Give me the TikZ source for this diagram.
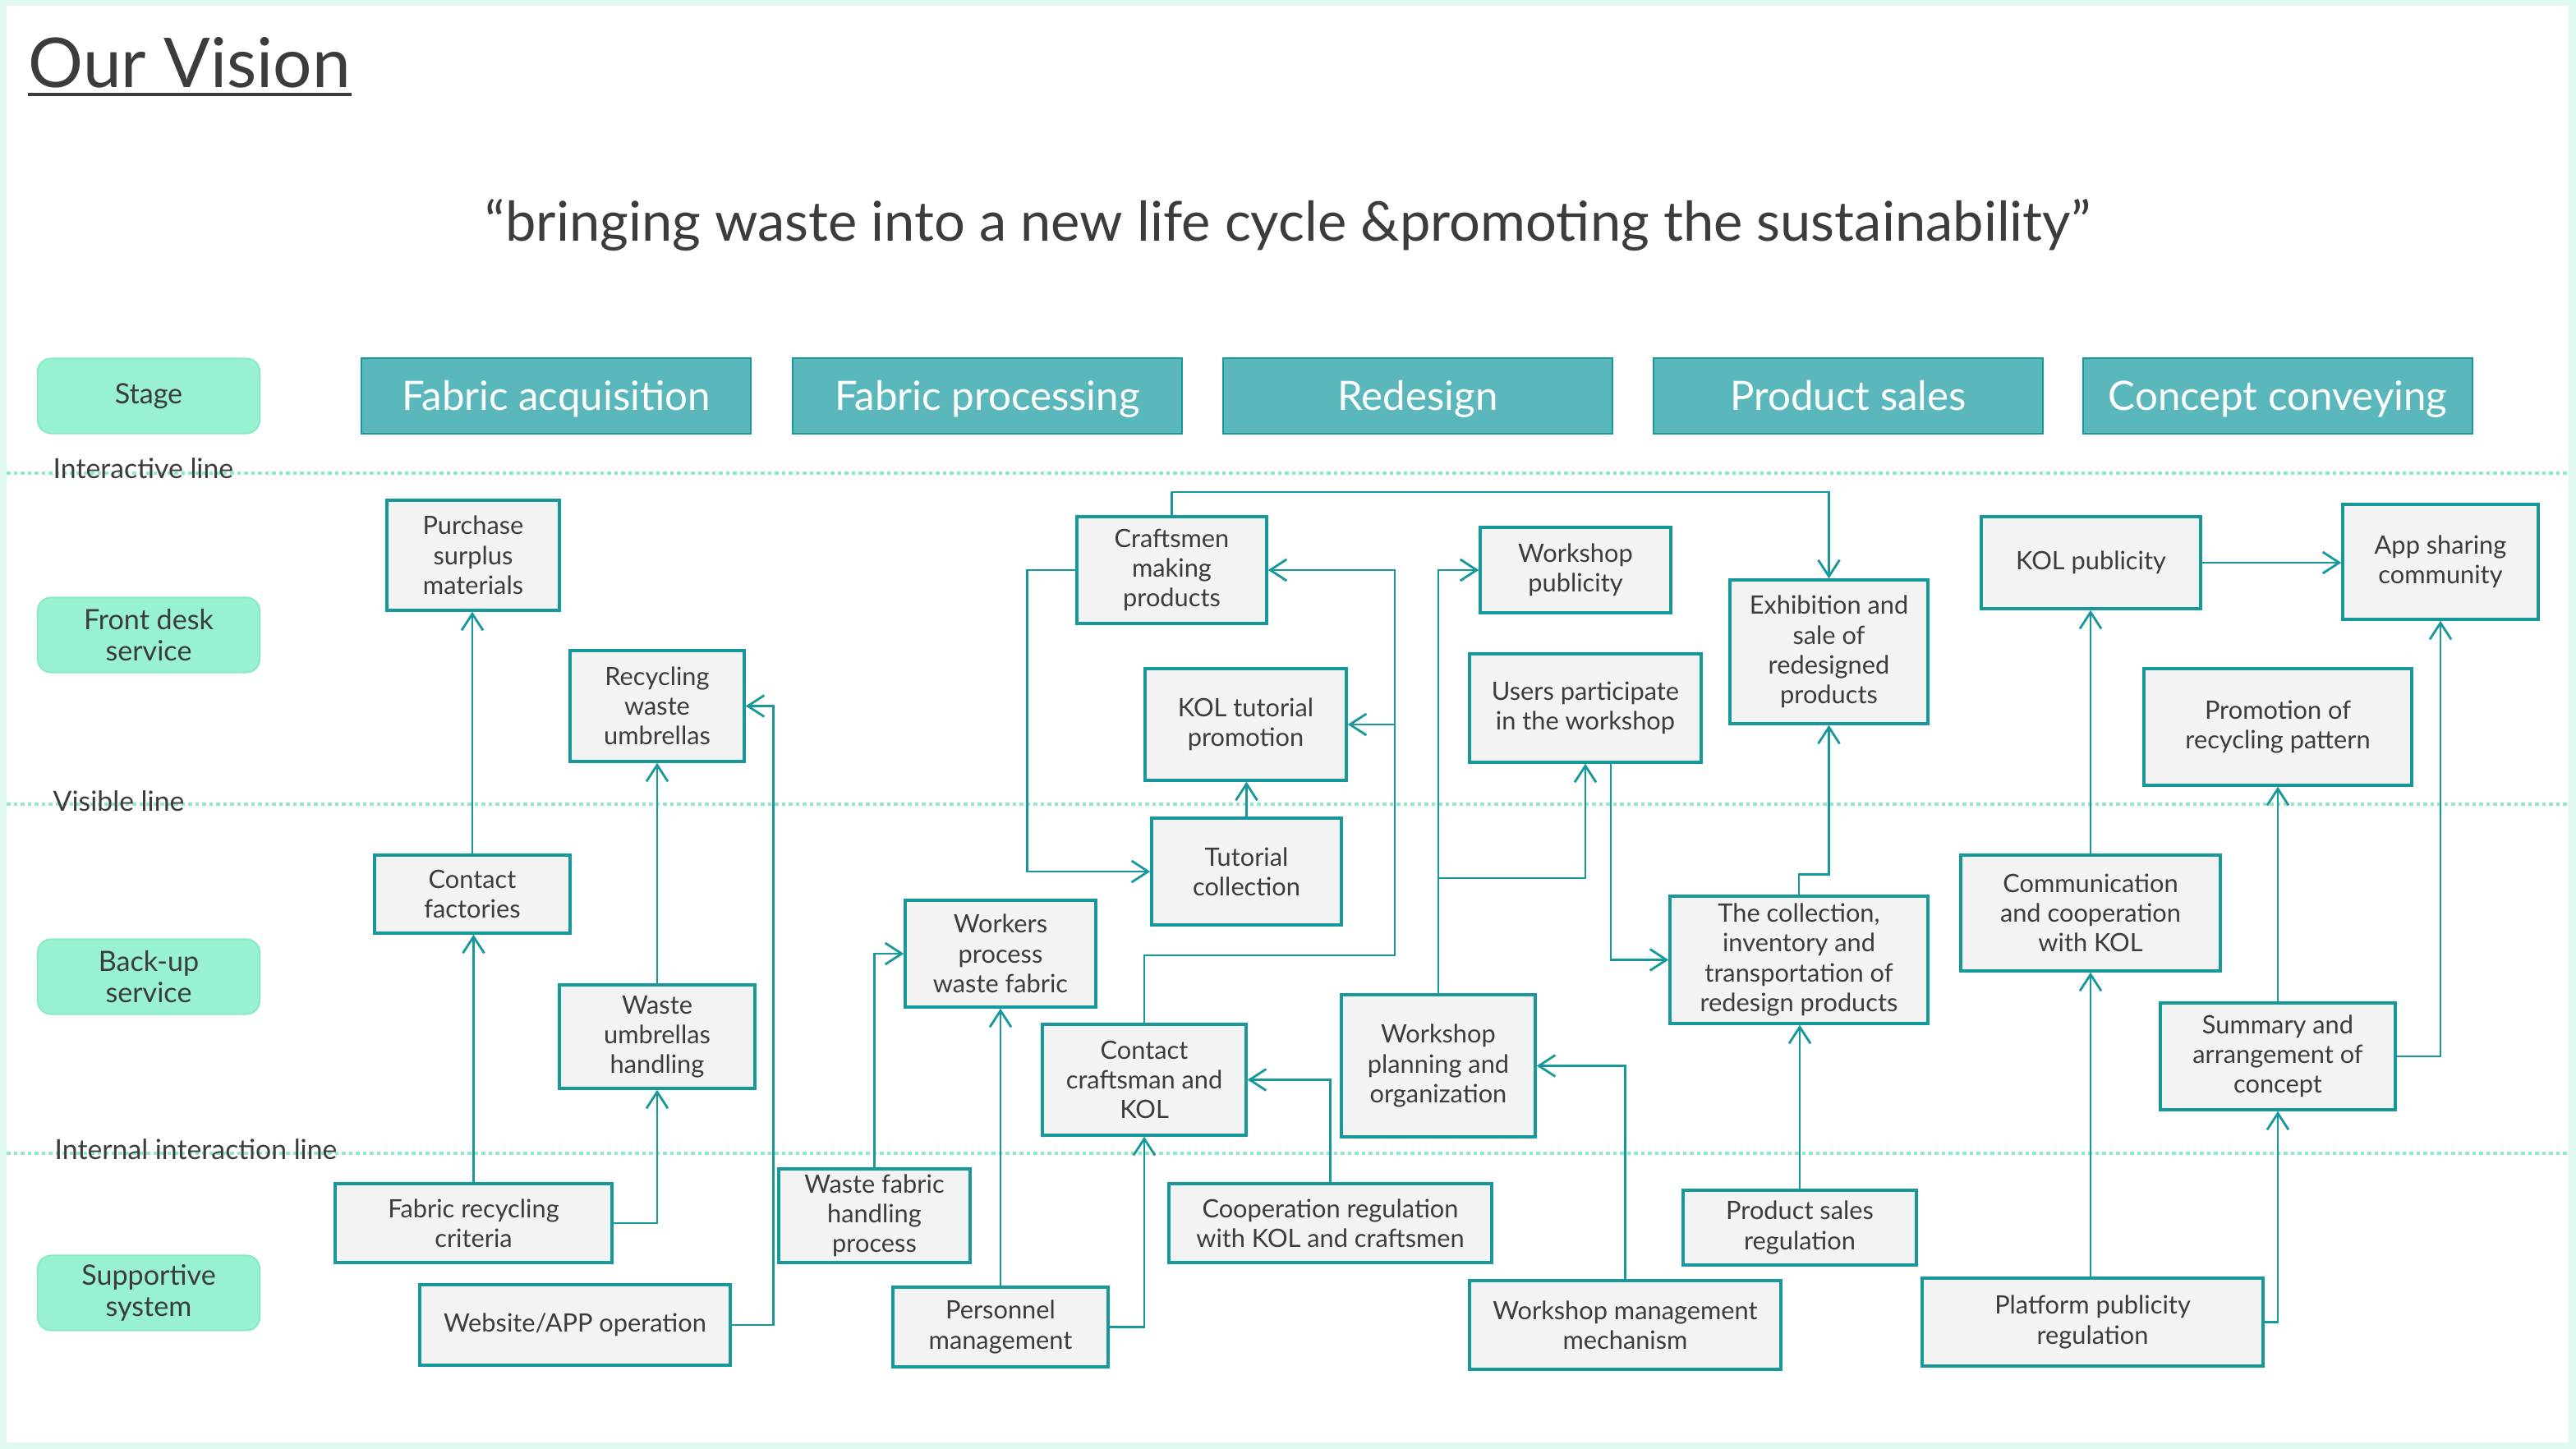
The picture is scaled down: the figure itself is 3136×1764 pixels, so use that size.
\documentclass[tikz,border=0pt]{standalone}
\usepackage{fontspec}
\setmainfont{Lato}
\usetikzlibrary{arrows.meta}
\definecolor{frameC}{HTML}{E0F9EF}
\definecolor{tealB}{HTML}{17999B}
\definecolor{boxF}{HTML}{F3F3F3}
\definecolor{txtC}{HTML}{3C3C3C}
\definecolor{mintF}{HTML}{98F2CF}
\definecolor{mintB}{HTML}{86EBC4}
\definecolor{headF}{HTML}{5AB7BB}
\definecolor{dotC}{HTML}{8FEAC8}
\tikzset{
  box/.style={draw=tealB, fill=boxF, line width=0.035cm, text=txtC, align=center,
    inner sep=0pt, font=\fontsize{8.75}{10.3}\selectfont},
  wh/.style 2 args={minimum width=#1*0.01cm, minimum height=#2*0.01cm},
  conn/.style={draw=tealB, line width=0.028cm,
    -{Straight Barb[length=0.2cm,width=0.26cm,line width=0.028cm]}},
  stagelbl/.style={fill=mintF, draw=mintB, line width=0.02cm, rounded corners=0.16cm,
    text=txtC, align=center, inner sep=0pt, minimum width=2.7cm, minimum height=0.91cm,
    font=\fontsize{9.7}{10.8}\selectfont},
  head/.style={fill=headF, draw=tealB, line width=0.02cm, text=white, inner sep=0pt,
    minimum width=4.74cm, minimum height=0.92cm, text height=0.42cm, text depth=0.07cm,
    font=\fontsize{14}{16}\selectfont},
  sepline/.style={draw=dotC, line width=0.045cm, dash pattern=on 0.045cm off 0.04cm},
  linelbl/.style={text=txtC, inner sep=0pt, anchor=base west, font=\fontsize{9.6}{11}\selectfont}
}
\begin{document}
\begin{tikzpicture}[x=0.01cm,y=-0.01cm]
\useasboundingbox (0,0) rectangle (3136,1764);
\fill[frameC] (0,0) rectangle (3136,1764);
\fill[white] (8,7) rectangle (3127,1756);

% title and motto
\node[anchor=base west, inner sep=0pt, text=txtC, font=\fontsize{23.8}{28}\selectfont] (title) at (34,107) {Our Vision};
\draw[txtC, line width=0.045cm] ([yshift=-0.08cm]title.base west) -- ([yshift=-0.08cm]title.base east);
\node[anchor=base, inner sep=0pt, text=txtC, font=\fontsize{19}{22}\selectfont] (motto) at (1568,294) {“bringing waste into a new life cycle \&promoting the sustainability”};

% separator lines
\draw[sepline] (8,576) -- (3127,576);
\draw[sepline] (8,979) -- (3127,979);
\draw[sepline] (8,1404) -- (3127,1404);
\node[linelbl] (l1) at (64,583) {Interactive line};
\node[linelbl] (l2) at (64,987) {Visible line};
\node[linelbl] (l3) at (66,1411) {Internal interaction line};

% stage labels
\node[stagelbl] (stage) at (181,482) {Stage};
\node[stagelbl] (front) at (181,773) {Front desk\\service};
\node[stagelbl] (backup) at (181,1189) {Back-up\\service};
\node[stagelbl] (support) at (181,1574) {Supportive\\system};

% headers
\node[head] (h1) at (677,482) {Fabric acquisition};
\node[head] (h2) at (1202,482) {Fabric processing};
\node[head] (h3) at (1726,482) {Redesign};
\node[head] (h4) at (2250,482) {Product sales};
\node[head] (h5) at (2773,482) {Concept conveying};

% boxes
\node[box, wh={210}{134}] (purchase) at (576,676) {Purchase\\surplus\\materials};
\node[box, wh={212}{135}] (recyc) at (800,859.5) {Recycling\\waste\\umbrellas};
\node[box, wh={238}{95}] (contactf) at (575,1088.5) {Contact\\factories};
\node[box, wh={238}{126}] (wasteumb) at (800,1262) {Waste\\umbrellas\\handling};
\node[box, wh={337}{96}] (fabcrit) at (576.5,1489) {Fabric recycling\\criteria};
\node[box, wh={378}{98}] (website) at (700,1613) {Website/APP operation};
\node[box, wh={231}{130}] (craftsmen) at (1426.5,694) {Craftsmen\\making\\products};
\node[box, wh={245}{136}] (koltut) at (1516.5,882) {KOL tutorial\\promotion};
\node[box, wh={231}{130}] (tutcoll) at (1517.5,1061) {Tutorial\\collection};
\node[box, wh={232}{130}] (workers) at (1218,1161) {Workers\\process\\waste fabric};
\node[box, wh={233}{114}] (wastefab) at (1064.5,1480) {Waste fabric\\handling\\process};
\node[box, wh={262}{97}] (personnel) at (1218,1615.5) {Personnel\\management};
\node[box, wh={248}{135}] (contactck) at (1393,1314.5) {Contact\\craftsman and\\KOL};
\node[box, wh={232}{104}] (wspub) at (1918,694) {Workshop\\publicity};
\node[box, wh={282}{132}] (users) at (1930,862) {Users participate\\in the workshop};
\node[box, wh={236}{173}] (wsplan) at (1751,1297.5) {Workshop\\planning and\\organization};
\node[box, wh={241}{175}] (exhib) at (2226.5,793.5) {Exhibition and\\sale of\\redesigned\\products};
\node[box, wh={314}{155}] (collection) at (2190,1168.5) {The collection,\\inventory and\\transportation of\\redesign products};
\node[box, wh={393}{96}] (coop) at (1619.5,1489) {Cooperation regulation\\with KOL and craftsmen};
\node[box, wh={379}{108}] (wsmgmt) at (1978.5,1613) {Workshop management\\mechanism};
\node[box, wh={284}{91}] (prodsales) at (2191,1494.5) {Product sales\\regulation};
\node[box, wh={267}{112}] (kolpub) at (2545.5,685) {KOL publicity};
\node[box, wh={238}{140}] (app) at (2971,684) {App sharing\\community};
\node[box, wh={326}{142}] (promo) at (2773,885) {Promotion of\\recycling pattern};
\node[box, wh={316}{141}] (comm) at (2545,1111.5) {Communication\\and cooperation\\with KOL};
\node[box, wh={286}{130}] (summary) at (2773,1286) {Summary and\\arrangement of\\concept};
\node[box, wh={415}{107}] (platform) at (2547.5,1609.5) {Platform publicity\\regulation};

% coordinates for bends
\coordinate (hk) at (1698,1163);
\coordinate (top) at (1426,599);
\coordinate (wsb) at (1751,1069);

% connectors
\draw[conn] (contactf.north) -- (contactf.north |- purchase.south);
\draw[conn] (fabcrit.north) -- (fabcrit.north |- contactf.south);
\draw[conn] (wasteumb.north) -- (recyc.south);
\draw[conn] (fabcrit.east) -| (wasteumb.south);
\draw[conn] (website.east) -- ++(51,0) |- (recyc.east);
\draw[conn] (craftsmen.west) -- ++(-59,0) |- (tutcoll.west);
\draw[conn] (tutcoll.north) -- (tutcoll.north |- koltut.south);
\draw[conn] (contactck.north) |- (hk) |- (craftsmen.east);
\draw[conn] (hk |- koltut.east) -- (koltut.east);
\draw[conn] (craftsmen.north) |- (top) -| (exhib.north);
\draw[conn] (wastefab.north) |- (workers.west);
\draw[conn] (personnel.north) -- (workers.south);
\draw[conn] (personnel.east) -| (contactck.south);
\draw[conn] (coop.north) |- (contactck.east);
\draw[conn] (wsplan.north) |- (wspub.west);
\draw[conn] (wsb) -| (users.south);
\draw[conn] ([xshift=0.31cm]users.south) |- (collection.west);
\draw[conn] (collection.north) -- ++(0,-25) -| (exhib.south);
\draw[conn] (prodsales.north) -- (prodsales.north |- collection.south);
\draw[conn] (wsmgmt.north) |- (wsplan.east);
\draw[conn] (kolpub.east) -- (kolpub.east -| app.west);
\draw[conn] (comm.north) -- (comm.north |- kolpub.south);
\draw[conn] (comm.south |- platform.north) -- (comm.south);
\draw[conn] (platform.east) -| (summary.south);
\draw[conn] (summary.north) -- (promo.south);
\draw[conn] (summary.east) -| (app.south);
\end{tikzpicture}
\end{document}
